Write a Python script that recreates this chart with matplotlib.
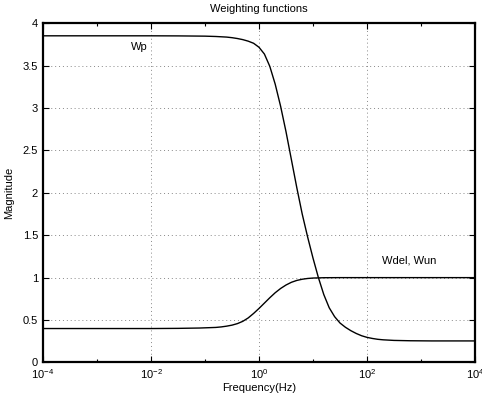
import numpy as np
from matplotlib import pyplot as plt
from matplotlib.ticker import FixedLocator, NullFormatter

plt.rcParams['font.family'] = ['Liberation Sans', 'DejaVu Sans']
plt.rcParams['mathtext.fontset'] = 'custom'
plt.rcParams['mathtext.rm'] = 'Liberation Sans'
plt.rcParams['mathtext.it'] = 'Liberation Sans'

# values (log10 of frequency, magnitude)
wp_logf = [-4, -3, -2, -1.5, -1.0, -0.8, -0.6, -0.5, -0.4, -0.3, -0.2, -0.1,
           0.0, 0.1, 0.2, 0.3, 0.4, 0.5, 0.6, 0.7, 0.8, 0.9, 1.0, 1.1, 1.2,
           1.3, 1.4, 1.5, 1.6, 1.7, 1.8, 1.9, 2.0, 2.1, 2.2, 2.3, 2.5, 2.8,
           3.2, 4.0]
wp_mag = [3.850, 3.850, 3.850, 3.849, 3.846, 3.842, 3.835, 3.828, 3.818, 3.805,
          3.787, 3.762, 3.715, 3.635, 3.49, 3.28, 3.02, 2.72, 2.39, 2.06, 1.75,
          1.48, 1.23, 1.00, 0.80, 0.645, 0.54, 0.465, 0.415, 0.375, 0.342,
          0.315, 0.296, 0.283, 0.273, 0.267, 0.260, 0.256, 0.254, 0.254]

wdel_logf = [-4, -2, -1.5, -1.1, -0.8, -0.7, -0.6, -0.5, -0.4, -0.3, -0.2, -0.1,
             0.0, 0.1, 0.2, 0.3, 0.4, 0.5, 0.6, 0.7, 0.8, 0.9, 1.0, 1.2, 1.5,
             2, 4]
wdel_mag = [0.400, 0.400, 0.402, 0.406, 0.413, 0.419, 0.428, 0.44, 0.458,
            0.485, 0.525, 0.578, 0.637, 0.70, 0.763, 0.822, 0.872, 0.913,
            0.945, 0.967, 0.981, 0.99, 0.995, 0.999, 1.0, 1.0, 1.0]

major_ticks = [1e-4, 1e-2, 1e0, 1e2, 1e4]
major_labels = ['$10^{-4}$', '$10^{-2}$', '$10^{0}$', '$10^{2}$', '$10^{4}$']
minor_ticks = [1e-3, 1e-1, 1e1, 1e3]

fig = plt.figure(figsize=(4.82, 4.05), dpi=100)
ax = fig.add_axes([0.0892, 0.105, 0.8963, 0.838])

ax.plot(10.0 ** np.array(wp_logf), wp_mag, color='black', lw=1.0)
ax.plot(10.0 ** np.array(wdel_logf), wdel_mag, color='black', lw=1.0)

ax.set_xscale('log')
ax.set_xlim(1e-4, 1e4)
ax.set_ylim(0, 4)
ax.xaxis.set_major_locator(FixedLocator(major_ticks))
ax.set_xticklabels(major_labels)
ax.xaxis.set_minor_locator(FixedLocator(minor_ticks))
ax.xaxis.set_minor_formatter(NullFormatter())
ax.set_yticks(np.arange(0, 4.01, 0.5))
ax.set_yticklabels(['0', '0.5', '1', '1.5', '2', '2.5', '3', '3.5', '4'])

ax.grid(True, which='major', linestyle=(0, (1, 3)), color='#888888', lw=0.7)
ax.tick_params(which='both', direction='in', top=True, right=True,
               labelsize=8, colors='black')
ax.tick_params(which='major', length=4, width=0.8)
ax.tick_params(which='minor', length=2.5, width=0.8)
for s in ax.spines.values():
    s.set_linewidth(1.6)

ax.text(4.3e-3, 3.72, 'Wp', fontsize=8, va='center')
ax.text(10 ** 2.27, 1.20, 'Wdel, Wun', fontsize=8, va='center')

ax.set_title('Weighting functions', fontsize=8, pad=8)
ax.set_xlabel('Frequency(Hz)', fontsize=8, labelpad=1)
ax.set_ylabel('Magnitude', fontsize=8, labelpad=6)

fig.savefig('out.png', dpi=100)
